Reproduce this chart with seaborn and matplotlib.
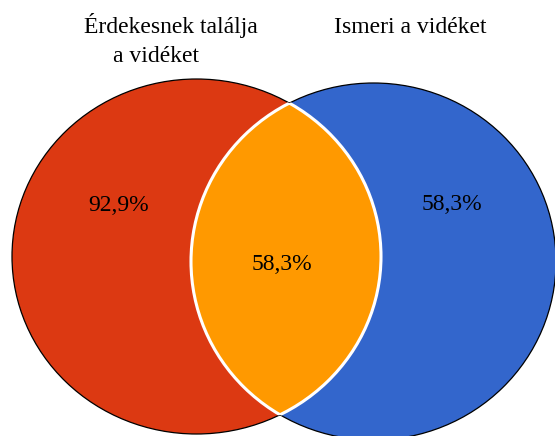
import matplotlib
matplotlib.use("Agg")
import matplotlib.pyplot as plt
from matplotlib.patches import Ellipse
import seaborn as sns

# --- Adatok ---
halmaz_nevek = ["Érdekesnek találja\na vidéket", "Ismeri a vidéket"]
csak_ertekek = [92.9, 58.3]
metszet_ertek = 58.3
szinek = ["#DC3912", "#3366CC", "#FF9900"]


def szazalek(v):
    return f"{v:.1f}%".replace(".", ",")


sns.set_style("white")
plt.rcParams["font.family"] = ["Liberation Serif", "DejaVu Serif"]
plt.rcParams["text.color"] = "black"
paletta = sns.color_palette(szinek)

fig = plt.figure(figsize=(5.55, 4.36), dpi=100)
ax = fig.add_axes([0, 0, 1, 1])
ax.set_xlim(0, 555)
ax.set_ylim(436, 0)
ax.axis("off")

# ellipszisek geometriája (pixelben)
kozeppontok = [(196.5, 256.5), (373.5, 261.5)]
meretek = [(369, 355), (365, 357)]

korok = []
for (c, (w, h), szin) in zip(kozeppontok, meretek, paletta[:2]):
    e = Ellipse(c, w, h, facecolor=szin, edgecolor="black", lw=0.9, zorder=1)
    ax.add_patch(e)
    korok.append(e)

# metszet: a jobb kör a bal körre vágva
lencse = Ellipse(kozeppontok[1], *meretek[1], facecolor=paletta[2],
                 edgecolor="none", zorder=2)
ax.add_patch(lencse)
lencse.set_clip_path(korok[0])

# fehér határvonal a metszet körül
for i, j in [(0, 1), (1, 0)]:
    vonal = Ellipse(kozeppontok[i], *meretek[i], fill=False,
                    edgecolor="white", lw=2.2, zorder=3)
    ax.add_patch(vonal)
    vonal.set_clip_path(korok[j])

# feliratok
sorok = halmaz_nevek[0].split("\n")
ax.text(171, 33, sorok[0], ha="center", va="baseline", fontsize=17, color="black")
ax.text(156, 62, sorok[1], ha="center", va="baseline", fontsize=17, color="black")
ax.text(410, 33, halmaz_nevek[1], ha="center", va="baseline", fontsize=17, color="black")

ax.text(119, 211, szazalek(csak_ertekek[0]), ha="center", va="baseline",
        fontsize=17, color="black")
ax.text(452, 210, szazalek(csak_ertekek[1]), ha="center", va="baseline",
        fontsize=17, color="black")
ax.text(282, 270, szazalek(metszet_ertek), ha="center", va="baseline",
        fontsize=17, color="black")

fig.savefig("out.png", dpi=100)
